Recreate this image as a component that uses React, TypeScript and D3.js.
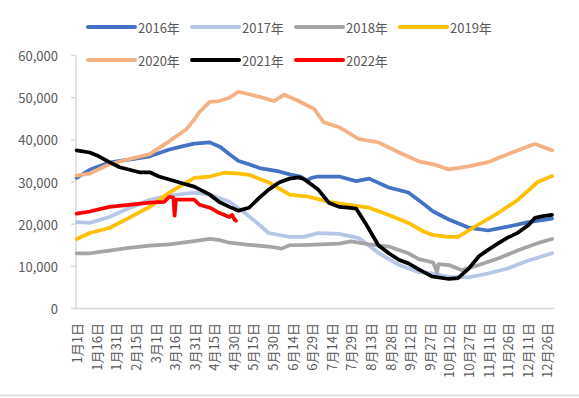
import React from 'react';
import * as d3 from 'd3';

type Pt = [number, number];

const width = 579;
const height = 398;

// day-of-year (leap year template) -> value
const s2016: Pt[] = [[0,31000],[10,32900],[25,34600],[40,35300],[56,36100],[71,37700],[80,38400],[90,39100],[102,39400],[110,38300],[117,36600],[124,35000],[132,34200],[140,33300],[155,32500],[163,31800],[172,31200],[176,30300],[180,31000],[185,31300],[201,31300],[214,30200],[224,30800],[239,28700],[254,27500],[266,24700],[273,23000],[285,21100],[300,19200],[315,18500],[330,19400],[346,20500],[364,21300]];
const s2017: Pt[] = [[0,20500],[10,20300],[25,21700],[40,23800],[56,25800],[71,26800],[90,27500],[102,27000],[117,25300],[128,22900],[140,19800],[147,17900],[163,17000],[174,17000],[185,17900],[201,17700],[216,16700],[231,13200],[247,10300],[262,8600],[273,8300],[285,7500],[300,7400],[315,8300],[330,9500],[346,11400],[364,13100]];
const s2018: Pt[] = [[0,13100],[10,13100],[25,13700],[40,14400],[56,14900],[71,15200],[90,16000],[102,16500],[110,16200],[117,15600],[132,15100],[147,14700],[157,14200],[163,15000],[178,15100],[201,15400],[210,15900],[224,15200],[239,14700],[254,13100],[262,11700],[273,10900],[276,8600],[277,10500],[285,10300],[295,9100],[308,10300],[323,11900],[338,13800],[353,15500],[364,16500]];
const s2019: Pt[] = [[0,16500],[10,17900],[25,19100],[40,21500],[56,24100],[71,27500],[90,31000],[102,31300],[113,32200],[124,32000],[132,31700],[147,29900],[163,27000],[178,26500],[193,25300],[208,24600],[224,23900],[239,22200],[254,20300],[266,18200],[273,17400],[285,17000],[292,17000],[307,19800],[323,22700],[338,25800],[346,28000],[353,30000],[364,31400]];
const s2020: Pt[] = [[0,31500],[10,32000],[25,34200],[40,35400],[56,36600],[71,39700],[84,42500],[90,44800],[94,46600],[102,49000],[109,49200],[117,50000],[124,51400],[132,50800],[140,50200],[151,49200],[159,50700],[170,49200],[182,47300],[189,44200],[201,43000],[216,40200],[231,39400],[247,37000],[262,34900],[273,34200],[285,33000],[300,33700],[315,34700],[330,36600],[346,38500],[351,39000],[364,37500]];
const s2021: Pt[] = [[0,37500],[10,37000],[17,36100],[25,34700],[33,33500],[48,32300],[56,32300],[63,31300],[71,30600],[82,29600],[90,28900],[102,27000],[109,25300],[117,24100],[124,23200],[132,23900],[140,26300],[147,28200],[155,29900],[163,30800],[170,31100],[174,30700],[185,28200],[193,25100],[201,24100],[208,23900],[214,23700],[221,20300],[231,15000],[239,13100],[247,11500],[254,10700],[262,9300],[272,7600],[285,7000],[292,7200],[300,9400],[308,12400],[315,13900],[323,15500],[330,16800],[338,18000],[346,19800],[351,21500],[357,21900],[364,22200]];
const s2022: Pt[] = [[0,22500],[10,23000],[25,24100],[40,24600],[56,25100],[67,25300],[71,26500],[74,26300],[75,22000],[76,25800],[79,25800],[90,25800],[94,24600],[102,23900],[109,22700],[117,21700],[119,22200],[121,21000],[122,20800]];

const seriesNames = ['2016年', '2017年', '2018年', '2019年', '2020年', '2021年', '2022年'];
const seriesData = [s2016, s2017, s2018, s2019, s2020, s2021, s2022];
const colors = ['#4472C4', '#B4C7E7', '#A5A5A5', '#FFC000', '#F4B183', '#000000', '#FF0000'];

const yTicks = [0, 10000, 20000, 30000, 40000, 50000, 60000];
const xTickLabels = ['1月1日', '1月16日', '1月31日', '2月15日', '3月1日', '3月16日', '3月31日', '4月15日', '4月30日', '5月15日', '5月30日', '6月14日', '6月29日', '7月14日', '7月29日', '8月13日', '8月28日', '9月12日', '9月27日', '10月12日', '10月27日', '11月11日', '11月26日', '12月11日', '12月26日'];

const font = '"Noto Sans CJK SC", "Noto Sans", sans-serif';
const textColor = '#595959';
const axisColor = '#D9D9D9';

const App: React.FC = () => {
  const x = d3.scaleLinear().domain([0, 366]).range([76, 554]);
  const y = d3.scaleLinear().domain([0, 60000]).range([308.5, 55.5]);
  const line = d3.line<Pt>().x(d => x(d[0] + 0.5)).y(d => y(d[1]));
  const fmt = d3.format(',');

  return (
    <svg width={width} height={height} style={{ position: 'absolute', left: 0, top: 0, fontFamily: font }}>
      <rect width={width} height={height} fill="white" />

      {/* y axis */}
      <line x1={76} x2={76} y1={y(60000)} y2={y(0)} stroke={axisColor} strokeWidth={1.5} />
      {yTicks.map(t => (
        <g key={t}>
          <line x1={71} x2={76} y1={y(t)} y2={y(t)} stroke={axisColor} strokeWidth={1.5} />
          <text x={58} y={y(t)} textAnchor="end" dominantBaseline="central" fontSize={13} fill={textColor}>{fmt(t)}</text>
        </g>
      ))}

      {/* x axis */}
      <line x1={76} x2={554} y1={y(0)} y2={y(0)} stroke={axisColor} strokeWidth={1.5} />
      {xTickLabels.map((lab, i) => {
        const px = x(i * 15 + 0.5);
        return (
          <text key={lab} transform={`translate(${px},323) rotate(-90)`} textAnchor="end" dominantBaseline="central" fontSize={13} fill={textColor}>{lab}</text>
        );
      })}

      {/* series */}
      {seriesData.map((s, i) => (
        <path key={seriesNames[i]} d={line(s) || ''} fill="none" stroke={colors[i]} strokeWidth={3.75} strokeLinejoin="round" strokeLinecap="round" />
      ))}

      {/* legend */}
      {seriesNames.map((name, i) => {
        const col = i % 4;
        const row = Math.floor(i / 4);
        const lx = 88 + col * 104;
        const ly = row === 0 ? 27 : 60;
        return (
          <g key={name}>
            <line x1={lx} x2={lx + 47} y1={ly} y2={ly} stroke={colors[i]} strokeWidth={4} strokeLinecap="round" />
            <text x={lx + 50} y={ly} dominantBaseline="central" fontSize={13} fill={textColor}>{name}</text>
          </g>
        );
      })}

      <line x1={0} x2={width} y1={395.5} y2={395.5} stroke={axisColor} strokeWidth={1.5} />
    </svg>
  );
};

export default App;
